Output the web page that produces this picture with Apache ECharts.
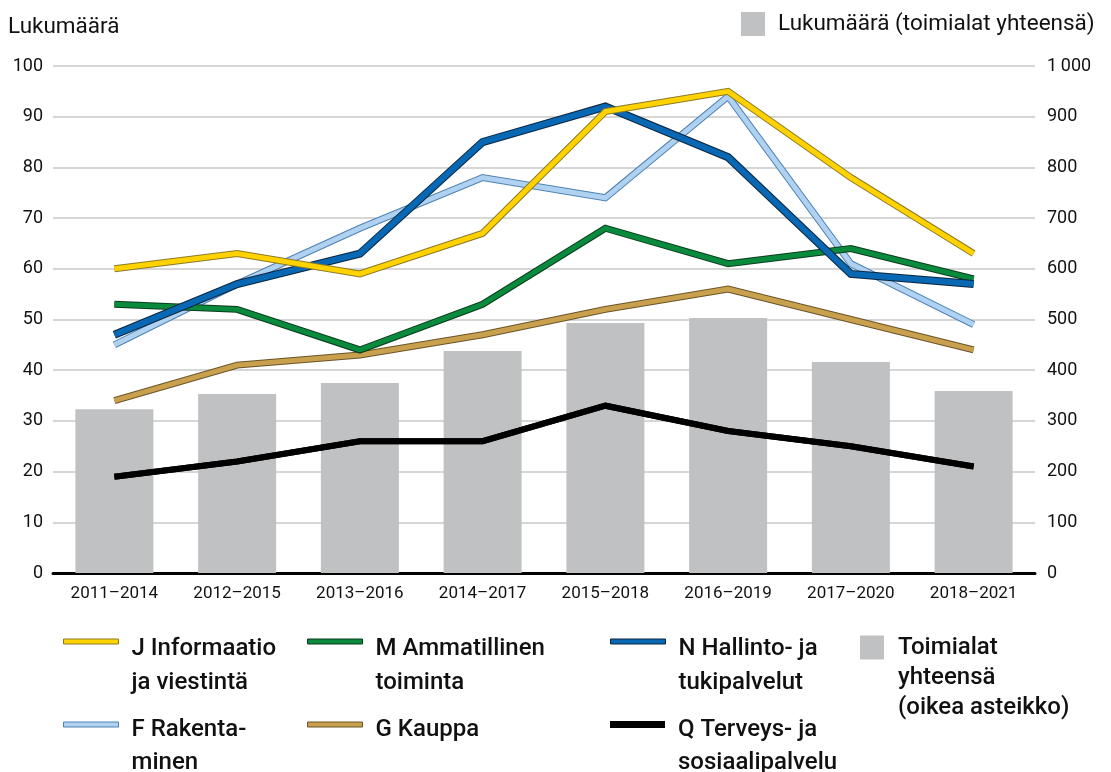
<!DOCTYPE html>
<html>
<head>
<meta charset="utf-8">
<script src="https://cdn.jsdelivr.net/npm/echarts@6/dist/echarts.min.js"></script>
<style>
  html, body { margin: 0; padding: 0; background: #fff; }
  #chart { width: 1111px; height: 772px; }
</style>
</head>
<body>
<div id="chart"></div>
<script>
// data
var categories = ['2011–2014', '2012–2015', '2013–2016', '2014–2017', '2015–2018', '2016–2019', '2017–2020', '2018–2021'];
var totalAll = [323, 353, 375, 438, 493, 503, 416, 359];   // right axis
var jInfo   = [60, 63, 59, 67, 91, 95, 78, 63];
var mAmmat  = [53, 52, 44, 53, 68, 61, 64, 58];
var nHall   = [47, 57, 63, 85, 92, 82, 59, 57];
var fRak    = [45, 57, 68, 78, 74, 94, 61, 49];
var gKauppa = [34, 41, 43, 47, 52, 56, 50, 44];
var qTerv   = [19, 22, 26, 26, 33, 28, 25, 21];
var leftTicks = { min: 0, max: 100, interval: 10 };
var rightTicks = { min: 0, max: 1000, interval: 100 };

var FONT = 'Roboto';

// line series: name, data, fill colour, outline colour, widths, label text
var lines = [
  { name: 'Q', data: qTerv,   color: '#000000', border: '#000000', w: 6, bw: 6, label: 'Q Terveys- ja\nsosiaalipalvelu' },
  { name: 'G', data: gKauppa, color: '#c9a04e', border: '#6b5428', w: 5, bw: 7, label: 'G Kauppa' },
  { name: 'F', data: fRak,    color: '#b0d2f0', border: '#4d82b5', w: 5, bw: 7, label: 'F Rakenta-\nminen' },
  { name: 'M', data: mAmmat,  color: '#0a8a3c', border: '#0b3d1c', w: 5, bw: 7, label: 'M Ammatillinen\ntoiminta' },
  { name: 'N', data: nHall,   color: '#0868b4', border: '#0b2640', w: 6, bw: 8, label: 'N Hallinto- ja\ntukipalvelut' },
  { name: 'J', data: jInfo,   color: '#ffd200', border: '#8c7a26', w: 5, bw: 7, label: 'J Informaatio\nja viestintä' }
];

var series = [{
  name: 'T',
  type: 'bar',
  yAxisIndex: 1,
  data: totalAll,
  barWidth: 78,
  itemStyle: { color: '#c0c1c3' },
  silent: true
}];

lines.forEach(function (l) {
  series.push({
    name: l.name + '_edge',
    type: 'line',
    data: l.data,
    symbol: 'none',
    silent: true,
    lineStyle: { color: l.border, width: l.bw, join: 'miter', cap: 'butt' }
  });
  series.push({
    name: l.name,
    type: 'line',
    data: l.data,
    symbol: 'none',
    silent: true,
    lineStyle: { color: l.color, width: l.w, join: 'miter', cap: 'butt' }
  });
});

var labels = {};
lines.forEach(function (l) { labels[l.name] = l.label; });
labels.T = 'Toimialat\nyhteensä\n(oikea asteikko)';

// the legend centres its text block on the icon; a spacer line in front
// moves the first text line to sit level with the icon (offset d)
function legendFor(name, left, iconY, lh, d) {
  var l = lines.filter(function (x) { return x.name === name; })[0];
  var parts = labels[name].split('\n');
  var n = parts.length;
  var s = 2 * d + (n - 1) * lh;
  var text = '{s| }\n' + parts.map(function (p) { return '{t|' + p + '}'; }).join('\n');
  var H = s + n * lh;
  var item = { name: name, icon: 'rect' };
  if (l) {
    item.itemStyle = { color: l.color, borderColor: l.border, borderWidth: l.name === 'Q' ? 0 : 1 };
  } else {
    item.itemStyle = { color: '#c0c1c3' };
  }
  return {
    left: left,
    top: iconY - H / 2 + s / 2 + 1,
    padding: 0,
    selectedMode: false,
    itemWidth: l ? 55 : 24,
    itemHeight: l ? (l.name === 'Q' ? 7 : 5) : 24,
    data: [item],
    formatter: function () { return text; },
    textStyle: {
      padding: [0, 0, 0, l ? 8 : 9],
      rich: {
        s: { fontSize: 1, lineHeight: s },
        t: { fontFamily: FONT, fontSize: 24, fontWeight: 500, color: '#111', lineHeight: lh }
      }
    }
  };
}

var legends = [
  legendFor('J', 63, 640, 34, 7),
  legendFor('M', 307, 640, 34, 7),
  legendFor('N', 610, 640, 34, 7),
  legendFor('T', 860, 646, 30, 0),
  legendFor('F', 63, 723, 33, 5),
  legendFor('G', 307, 723, 33, 5),
  legendFor('Q', 610, 723, 33, 5),
  {
    left: 741, top: 12, padding: 0, selectedMode: false,
    itemWidth: 24, itemHeight: 24,
    data: [{ name: 'T', icon: 'rect', itemStyle: { color: '#c0c1c3' } }],
    formatter: function () { return 'Lukumäärä (toimialat yhteensä)'; },
    textStyle: { fontFamily: FONT, fontSize: 22.5, color: '#111', padding: [0, 0, 0, 8] }
  }
];

var chart = echarts.init(document.getElementById('chart'));
chart.setOption({
  animation: false,
  backgroundColor: '#fff',
  title: {
    text: 'Lukumäärä', left: 8, top: 16, padding: 0,
    textStyle: { fontFamily: FONT, fontSize: 22.5, fontWeight: 'normal', color: '#111' }
  },
  legend: legends,
  grid: { left: 53, right: 76, top: 66, bottom: 199 },
  xAxis: {
    type: 'category',
    data: categories,
    axisLine: { lineStyle: { color: '#000', width: 3 } },
    axisTick: { show: false },
    axisLabel: { fontFamily: FONT, fontSize: 17, color: '#111', margin: 12 }
  },
  yAxis: [{
    type: 'value',
    min: leftTicks.min, max: leftTicks.max, interval: leftTicks.interval,
    axisLine: { show: false },
    axisTick: { show: false },
    splitLine: { lineStyle: { color: '#c8c8c8', width: 1.5 } },
    axisLabel: { fontFamily: FONT, fontSize: 18, color: '#111', margin: 10 }
  }, {
    type: 'value',
    min: rightTicks.min, max: rightTicks.max, interval: rightTicks.interval,
    axisLine: { show: false },
    axisTick: { show: false },
    splitLine: { show: false },
    axisLabel: {
      fontFamily: FONT, fontSize: 18, color: '#111', margin: 12,
      formatter: function (v) { return v >= 1000 ? String(v).replace(/(\d)(\d{3})$/, '$1\u2009$2') : String(v); }
    }
  }],
  series: series
});
</script>
</body>
</html>
